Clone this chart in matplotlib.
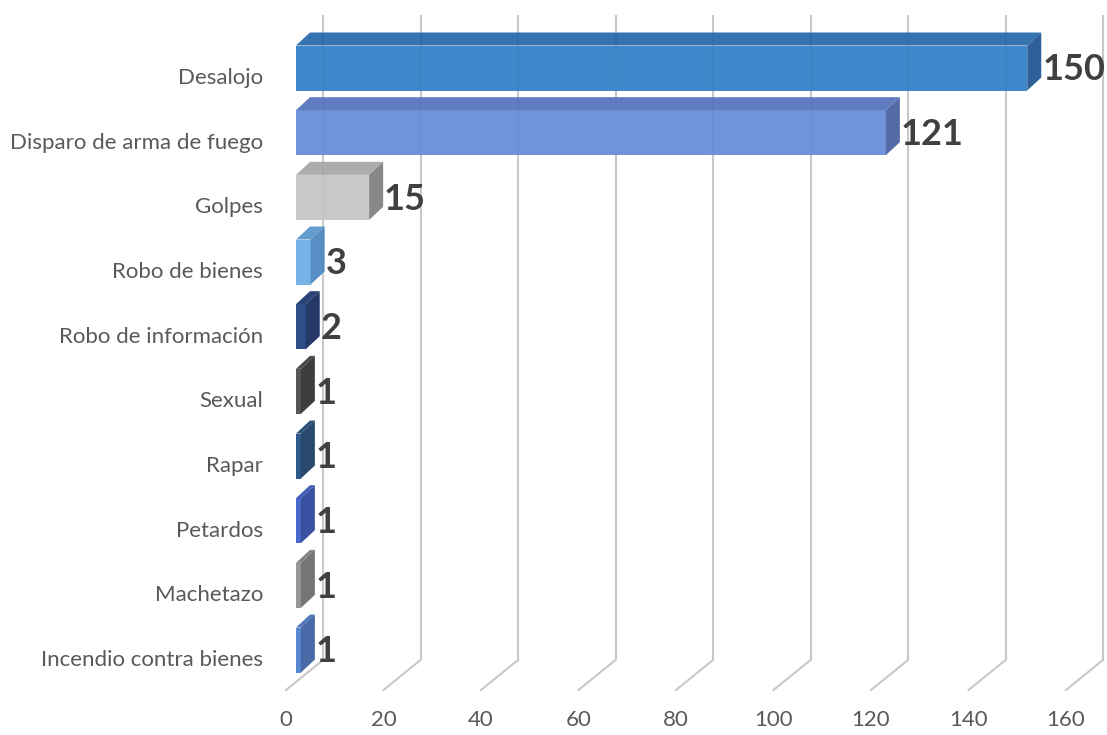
import numpy as np
import matplotlib
matplotlib.use('Agg')
import matplotlib.pyplot as plt
from matplotlib.patches import Polygon

# Datos
categorias = ['Desalojo', 'Disparo de arma de fuego', 'Golpes', 'Robo de bienes',
              'Robo de información', 'Sexual', 'Rapar', 'Petardos', 'Machetazo',
              'Incendio contra bienes']
valores = [150, 121, 15, 3, 2, 1, 1, 1, 1, 1]
ticks_x = [0, 20, 40, 60, 80, 100, 120, 140, 160]

# Colores (frente, superior, lateral)
col_frente = ['#2E7EC6', '#648CDA', '#C4C4C4', '#6AAEE6', '#1F3F80',
              '#4A4A4A', '#1E4E82', '#3B5CC8', '#8E8E8E', '#4B7FCC']
col_sup = ['#2568AA', '#5472BC', '#A6A6A6', '#5A96CC', '#1A3570',
           '#3C3C3C', '#1A4470', '#3250B0', '#7A7A7A', '#426EB2']
col_lado = ['#1E5591', '#465FA0', '#7F7F7F', '#4A86BF', '#15295A',
            '#2E2E2E', '#173A62', '#2B439A', '#6B6B6B', '#3A5FA0']

GRIS_TXT = '#595959'
GRIS_NUM = '#404040'
GRID = '#c8c8c8'

# escala en pixeles
PX = 4.875   # px por unidad
PY = 64.67   # px por categoria
W, H = 1107, 735

fig = plt.figure(figsize=(W / 100, H / 100), dpi=100)
ax = fig.add_axes([0, 0, 1, 1])
ax.set_xlim(-286 / PX, (W - 286) / PX)
ax.set_ylim((H - 78) / PY, -78 / PY)
ax.axis('off')

# profundidad del piso / pared
FDX, FDY = 37 / PX, 30 / PY
piso = (690 - 78) / PY
tope = (15 - 78) / PY

# pared del fondo + piso
for t in ticks_x:
    ax.plot([t + FDX, t + FDX], [tope, piso - FDY], color=GRID, lw=1.5,
            zorder=1, solid_capstyle='butt')
    ax.plot([t, t + FDX], [piso, piso - FDY], color=GRID, lw=1.5, zorder=1)
    ax.text(t, (720 - 78) / PY, str(t), ha='center', va='center',
            fontsize=16, color=GRIS_TXT, family='Lato')

# barras 3D
BX0, BY0 = 10 / PX, -10 / PY
BH = 45 / PY
BDX, BDY = 14 / PX, 13 / PY
y = np.arange(len(categorias))

ax.barh(y + BY0, valores, left=BX0, height=BH, color=col_frente,
        alpha=0.93, zorder=3)
for i, v in enumerate(valores):
    arriba = i + BY0 - BH / 2
    abajo = i + BY0 + BH / 2
    x1 = BX0 + v
    sup = Polygon([(BX0, arriba), (x1, arriba), (x1 + BDX, arriba - BDY),
                   (BX0 + BDX, arriba - BDY)], closed=True,
                  facecolor=col_sup[i], edgecolor='none', alpha=0.93, zorder=3)
    lado = Polygon([(x1, arriba), (x1 + BDX, arriba - BDY),
                    (x1 + BDX, abajo - BDY), (x1, abajo)], closed=True,
                   facecolor=col_lado[i], edgecolor='none', alpha=0.93, zorder=3)
    ax.add_patch(sup)
    ax.add_patch(lado)
    ax.text(x1 + BDX + 0.2, i + BY0 + 0.03, str(v), ha='left', va='center',
            fontsize=26, fontweight='bold', color=GRIS_NUM, family='Lato',
            zorder=4)

# etiquetas de categorias
for i, c in enumerate(categorias):
    ax.text(-23 / PX, i, c, ha='right', va='center', fontsize=16,
            color=GRIS_TXT, family='Lato')

fig.savefig('out.png', dpi=100)
